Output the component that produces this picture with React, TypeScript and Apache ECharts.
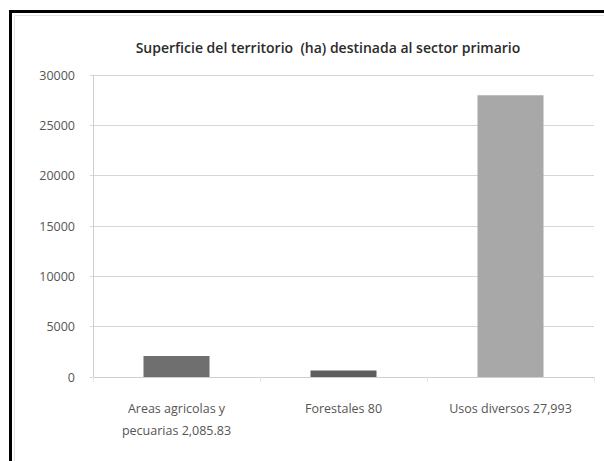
import React, { useEffect, useRef } from "react";
import * as echarts from "echarts";

const titleText = "Superficie del territorio  (ha) destinada al sector primario";
const categories = ["Areas agricolas y\npecuarias 2,085.83", "Forestales 80", "Usos diversos 27,993"];
const values = [2085.83, 650, 27993];
const barColors = ["#6f6f6f", "#5e5e5e", "#a8a8a8"];
const yTicks = { min: 0, max: 30000, interval: 5000 };

export default function App() {
  const ref = useRef<HTMLDivElement>(null);
  useEffect(() => {
    if (!ref.current) return;
    const chart = echarts.init(ref.current, undefined, { renderer: "svg" });
    chart.setOption({
      animation: false,
      backgroundColor: "#ffffff",
      textStyle: { fontFamily: "Open Sans" },
      title: {
        text: titleText,
        left: 323,
        top: 35,
        textAlign: "center",
        textStyle: { fontSize: 14, fontWeight: 600, color: "#2a2a2a", fontFamily: "Open Sans" },
      },
      graphic: [
        {
          type: "rect",
          shape: { x: 10.5, y: 11.5, width: 700, height: 600 },
          style: { fill: "none", stroke: "#000", lineWidth: 3 },
          silent: true,
        },
        {
          type: "rect",
          shape: { x: 14.5, y: 15.5, width: 700, height: 600 },
          style: { fill: "none", stroke: "#e2e2e2", lineWidth: 1 },
          silent: true,
        },
      ],
      grid: { left: 93, top: 75, right: 10, bottom: 84 },
      xAxis: {
        type: "category",
        data: categories,
        axisLine: { lineStyle: { color: "#cfcfcf" } },
        axisTick: { show: true, length: 5, lineStyle: { color: "#e6e6e6" } },
        axisLabel: { color: "#555", fontSize: 12.5, lineHeight: 22, margin: 20, interval: 0 },
      },
      yAxis: {
        type: "value",
        min: yTicks.min,
        max: yTicks.max,
        interval: yTicks.interval,
        axisLine: { show: true, lineStyle: { color: "#cfcfcf" } },
        axisTick: { show: true, length: 3, lineStyle: { color: "#d8d8d8" } },
        axisLabel: { color: "#555", fontSize: 12.5, margin: 18, formatter: (v: number) => String(v) },
        splitLine: { lineStyle: { color: "#d6d6d6" } },
      },
      series: [
        {
          type: "bar",
          barWidth: 66,
          data: values.map((v, i) => ({ value: v, itemStyle: { color: barColors[i] } })),
        },
      ],
    });
    return () => chart.dispose();
  }, []);
  return (
    <div
      ref={ref}
      style={{ position: "absolute", left: 0, top: 0, width: 604, height: 461 }}
    />
  );
}
